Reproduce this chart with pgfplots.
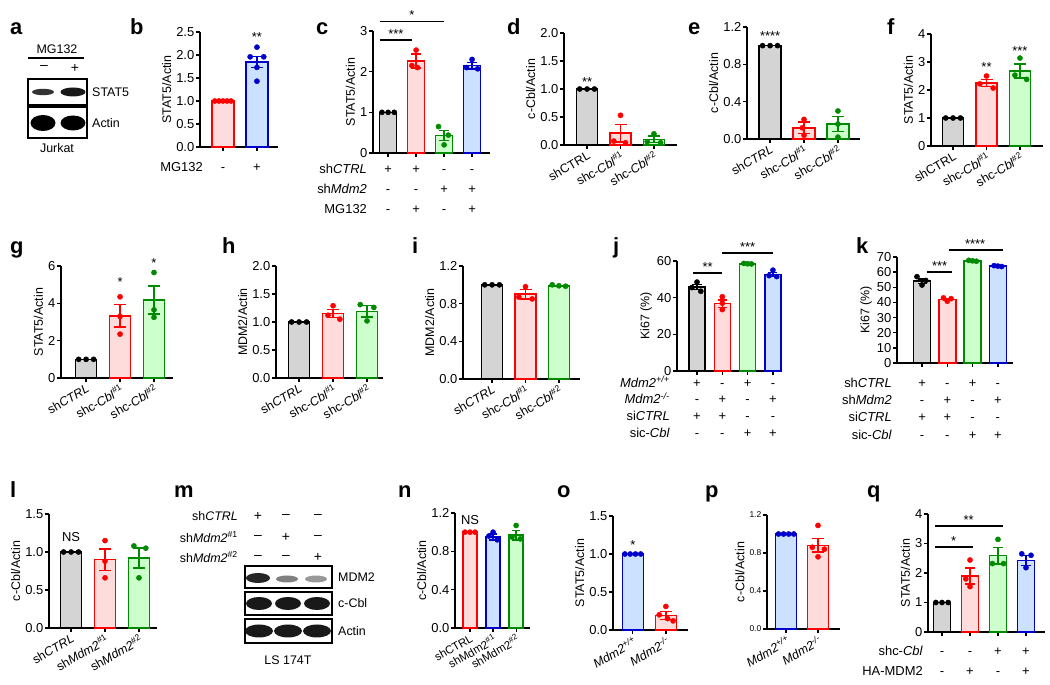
\documentclass[border=0pt]{standalone}
\usepackage{pgfplots}
\pgfplotsset{compat=1.18}
\usepackage{fontspec}
\setmainfont{Liberation Sans}
\definecolor{gf}{HTML}{D4D4D4}
\definecolor{rf}{HTML}{FFDCDC}
\definecolor{gnf}{HTML}{CCFFCC}
\definecolor{bf}{HTML}{CCE0FF}
\definecolor{rd}{HTML}{FF0000}
\definecolor{gn}{HTML}{008A00}
\definecolor{bl}{HTML}{0000CC}
\newcommand{\fs}[1]{\fontsize{#1}{1.2\dimexpr #1pt\relax}\selectfont}
\pgfplotsset{
  prism/.style={scale only axis, axis lines=left, axis line style={-, line width=1.5bp},
    tick align=outside, major tick length=4bp, tick style={black, line width=1.3bp},
    ymin=0, clip=false, xticklabels={},
    yticklabel style={font=\fs{13}, inner sep=1.5bp},
    ylabel style={font=\fs{12.5}},
    xticklabel style={font=\fs{12.5}, rotate=30, anchor=north east, inner sep=1bp},
    /pgf/number format/assume math mode=true},
  B/.style n args={3}{ybar, bar shift=0pt, draw=#1, fill=#2, line width=1.5bp, bar width=#3,
    /pgfplots/error bars/y dir=both, /pgfplots/error bars/y explicit,
    /pgfplots/error bars/error bar style={line width=1.4bp, draw=#1, solid},
    /pgfplots/error bars/error mark options={rotate=90, mark size=6bp, line width=1.4bp, draw=#1}},
  D/.style={only marks, mark=*, mark size=2.6bp, color=#1, mark options={solid, fill=#1, draw=#1}},
  S/.style={black, line width=1.4bp, mark=none},
}
\tikzset{
  st/.style={font=\fs{13}, inner sep=0pt, anchor=base, yshift=-7.2bp},
  sl/.style={font=\fs{13}, inner sep=0pt, anchor=base, yshift=1.5bp},
  tbl/.style={font=\fontsize{13}{#1}\selectfont, align=center, inner sep=0pt, anchor=north},
  tbr/.style={font=\fontsize{13}{#1}\selectfont, align=right, inner sep=0pt, anchor=north east},
  lt/.style={font=\bfseries\fontsize{22}{26}\selectfont, anchor=base west, inner sep=0pt},
  bt/.style={font=\fs{12.5}, inner sep=0pt},
}
\begin{document}
\begin{tikzpicture}
\useasboundingbox (0,0) rectangle (1050bp,685bp);
% panel letters
\node[lt] at (10bp,650bp) {a};
\node[lt] at (130bp,650bp) {b};
\node[lt] at (316bp,650bp) {c};
\node[lt] at (507bp,650bp) {d};
\node[lt] at (688bp,650bp) {e};
\node[lt] at (887bp,650bp) {f};
\node[lt] at (10bp,431bp) {g};
\node[lt] at (222bp,431bp) {h};
\node[lt] at (412bp,431bp) {i};
\node[lt] at (613bp,431bp) {j};
\node[lt] at (856bp,431bp) {k};
\node[lt] at (10bp,187bp) {l};
\node[lt] at (174bp,187bp) {m};
\node[lt] at (398bp,187bp) {n};
\node[lt] at (557bp,187bp) {o};
\node[lt] at (705bp,187bp) {p};
\node[lt] at (867bp,187bp) {q};

% ---- a: blot
\node[bt] at (57bp,636bp) {MG132};
\draw[line width=1.2bp] (28bp,627bp) -- (84bp,627bp);
\node[bt, font=\fs{14}] at (44bp,617bp) {\textendash};
\node[bt, font=\fs{14}] at (75bp,617bp) {+};
\draw[line width=1.6bp] (28bp,580bp) rectangle (87bp,606bp);
\fill[black!80] (43bp,593bp) ellipse [x radius=11bp, y radius=3.2bp];
\fill[black!90] (73bp,593bp) ellipse [x radius=12.5bp, y radius=4.5bp];
\draw[line width=1.6bp] (28bp,547bp) rectangle (87bp,578bp);
\fill[black] (43bp,562bp) ellipse [x radius=12.5bp, y radius=8bp];
\fill[black] (73bp,562bp) ellipse [x radius=12.5bp, y radius=7.5bp];
\node[bt, anchor=west] at (92bp,593bp) {STAT5};
\node[bt, anchor=west] at (92bp,562bp) {Actin};
\node[bt] at (57bp,537bp) {Jurkat};

% ---- m: blot
\node[bt, anchor=east] at (238bp,169bp) {sh\textit{CTRL}};
\node[bt, anchor=east] at (238bp,148bp) {sh\textit{Mdm2}\textsuperscript{\#1}};
\node[bt, anchor=east] at (238bp,128bp) {sh\textit{Mdm2}\textsuperscript{\#2}};
\node[bt, font=\fs{14}] at (258bp,169bp) {+};
\node[bt, font=\fs{14}] at (286bp,169bp) {\textendash};
\node[bt, font=\fs{14}] at (318bp,169bp) {\textendash};
\node[bt, font=\fs{14}] at (258bp,148bp) {\textendash};
\node[bt, font=\fs{14}] at (286bp,148bp) {+};
\node[bt, font=\fs{14}] at (318bp,148bp) {\textendash};
\node[bt, font=\fs{14}] at (258bp,128bp) {\textendash};
\node[bt, font=\fs{14}] at (286bp,128bp) {\textendash};
\node[bt, font=\fs{14}] at (318bp,128bp) {+};
\draw[line width=1.6bp] (245bp,97bp) rectangle (332bp,119bp);
\fill[black!85] (258bp,107bp) ellipse [x radius=12bp, y radius=5bp];
\fill[black!50] (287bp,106bp) ellipse [x radius=11bp, y radius=3.5bp];
\fill[black!40] (316bp,106bp) ellipse [x radius=11bp, y radius=3.5bp];
\draw[line width=1.6bp] (245bp,70bp) rectangle (332bp,93bp);
\fill[black!90] (259bp,81.5bp) ellipse [x radius=13bp, y radius=6.5bp];
\fill[black!90] (288bp,81.5bp) ellipse [x radius=13bp, y radius=6.5bp];
\fill[black!90] (317bp,81.5bp) ellipse [x radius=13bp, y radius=6.5bp];
\draw[line width=1.6bp] (245bp,42bp) rectangle (332bp,66bp);
\fill[black!90] (259bp,54bp) ellipse [x radius=14bp, y radius=6.5bp];
\fill[black!90] (288bp,54bp) ellipse [x radius=14bp, y radius=6.5bp];
\fill[black!90] (317bp,54bp) ellipse [x radius=14bp, y radius=6.5bp];
\node[bt, anchor=west] at (338bp,108bp) {MDM2};
\node[bt, anchor=west] at (338bp,82bp) {c-Cbl};
\node[bt, anchor=west] at (338bp,54bp) {Actin};
\node[bt] at (288bp,25bp) {LS 174T};

% ---- b
\begin{axis}[prism, at={(200bp,538bp)}, anchor=south west, width=78bp, height=115bp,
  xmin=-0.676, xmax=1.62, ymax=2.5, xtick={0,1},
  ytick={0,0.5,1,1.5,2,2.5}, yticklabels={0.0,0.5,1.0,1.5,2.0,2.5}, ylabel={STAT5/Actin}]
\addplot[B={rd}{rf}{22bp}] coordinates {(0,1) +- (0,0)};
\addplot[D=rd] coordinates {(-0.24,1)(-0.12,1)(0,1)(0.12,1)(0.24,1)};
\addplot[B={bl}{bf}{22bp}] coordinates {(1,1.85) +- (0,0.12)};
\addplot[D=bl] coordinates {(1,2.17)(0.8,1.96)(1.2,1.96)(1,1.73)(1,1.43)};
\node[st] at (axis cs:1,2.45) {**};
\node[tbl=20] at (axis cs:0,0) [yshift=-10.6bp] {\strut-};
\node[tbl=20] at (axis cs:1,0) [yshift=-10.6bp] {\strut+};
\node[tbr=20] at (axis cs:-0.59,0) [yshift=-10.6bp] {\strut MG132};
\end{axis}

% ---- c
\begin{axis}[prism, at={(373bp,532bp)}, anchor=south west, width=117bp, height=122bp,
  xmin=-0.54, xmax=3.64, ymax=3, xtick={0,1,2,3},
  ytick={0,1,2,3}, yticklabels={0,1,2,3}, ylabel={STAT5/Actin}]
\addplot[B={black}{gf}{17bp}] coordinates {(0,1) +- (0,0)};
\addplot[D=black] coordinates {(-0.22,1)(0,1)(0.22,1)};
\addplot[B={rd}{rf}{17bp}, /pgfplots/error bars/error mark options={rotate=90, mark size=5bp, line width=1.4bp, draw=rd}] coordinates {(1,2.26) +- (0,0.17)};
\addplot[D=rd] coordinates {(1,2.53)(0.85,2.15)(1.05,2.1)};
\addplot[B={gn}{gnf}{17bp}, /pgfplots/error bars/error mark options={rotate=90, mark size=5bp, line width=1.4bp, draw=gn}] coordinates {(2,0.43) +- (0,0.13)};
\addplot[D=gn] coordinates {(1.8,0.65)(2.15,0.44)(2,0.2)};
\addplot[B={bl}{bf}{17bp}, /pgfplots/error bars/error mark options={rotate=90, mark size=5bp, line width=1.4bp, draw=bl}] coordinates {(3,2.15) +- (0,0.08)};
\addplot[D=bl] coordinates {(3,2.3)(2.8,2.1)(3.2,2.07)};
\addplot[S] coordinates {(-0.3,2.78)(0.85,2.78)};
\node[sl] at (axis cs:0.28,2.78) {***};
\addplot[S] coordinates {(-0.3,3.24)(2,3.24)};
\node[sl] at (axis cs:0.85,3.24) {*};
\node[tbl=20.5] at (axis cs:0,0) [yshift=-5.6bp] {\strut+\\-\\-};
\node[tbl=20.5] at (axis cs:1,0) [yshift=-5.6bp] {\strut+\\-\\+};
\node[tbl=20.5] at (axis cs:2,0) [yshift=-5.6bp] {\strut-\\+\\-};
\node[tbl=20.5] at (axis cs:3,0) [yshift=-5.6bp] {\strut-\\+\\+};
\node[tbr=20.5] at (axis cs:-0.75,0) [yshift=-5.6bp] {\strut sh\textit{CTRL}\\sh\textit{Mdm2}\\MG132};
\end{axis}

% ---- d
\begin{axis}[prism, at={(564bp,540bp)}, anchor=south west, width=113bp, height=112bp,
  xmin=-0.69, xmax=2.69, ymax=2, xtick={0,1,2},
  xticklabels={shCTRL, shc-\textit{Cbl}\textsuperscript{\#1}, shc-\textit{Cbl}\textsuperscript{\#2}},
  ytick={0,0.5,1,1.5,2}, yticklabels={0.0,0.5,1.0,1.5,2.0}, ylabel={c-Cbl/Actin}]
\addplot[B={black}{gf}{21bp}] coordinates {(0,1) +- (0,0)};
\addplot[D=black] coordinates {(-0.22,1)(0,1)(0.22,1)};
\addplot[B={rd}{rf}{21bp}] coordinates {(1,0.21) +- (0,0.16)};
\addplot[D=rd] coordinates {(1,0.53)(0.8,0.07)(1.15,0.04)};
\addplot[B={gn}{gnf}{21bp}] coordinates {(2,0.1) +- (0,0.06)};
\addplot[D=gn] coordinates {(2,0.2)(1.8,0.06)(2.2,0.04)};
\node[st] at (axis cs:0,1.17) {**};
\end{axis}

% ---- e
\begin{axis}[prism, at={(747bp,546bp)}, anchor=south west, width=113bp, height=112bp,
  xmin=-0.68, xmax=2.65, ymax=1.2, xtick={0,1,2},
  xticklabels={sh\textit{CTRL}, shc-\textit{Cbl}\textsuperscript{\#1}, shc-\textit{Cbl}\textsuperscript{\#2}},
  ytick={0,0.4,0.8,1.2}, yticklabels={0.0,0.4,0.8,1.2}, ylabel={c-Cbl/Actin}]
\addplot[B={black}{gf}{22bp}] coordinates {(0,1) +- (0,0)};
\addplot[D=black] coordinates {(-0.22,1)(0,1)(0.22,1)};
\addplot[B={rd}{rf}{22bp}] coordinates {(1,0.12) +- (0,0.06)};
\addplot[D=rd] coordinates {(1,0.21)(0.95,0.12)(1,0.04)};
\addplot[B={gn}{gnf}{22bp}] coordinates {(2,0.16) +- (0,0.08)};
\addplot[D=gn] coordinates {(2,0.3)(2,0.16)(2,0.02)};
\node[st] at (axis cs:0,1.13) {****};
\end{axis}

% ---- f
\begin{axis}[prism, at={(931bp,539bp)}, anchor=south west, width=112bp, height=112bp,
  xmin=-0.66, xmax=2.69, ymax=4, xtick={0,1,2},
  xticklabels={shCTRL, shc-\textit{Cbl}\textsuperscript{\#1}, shc-\textit{Cbl}\textsuperscript{\#2}},
  ytick={0,1,2,3,4}, yticklabels={0,1,2,3,4}, ylabel={STAT5/Actin}]
\addplot[B={black}{gf}{21bp}] coordinates {(0,1) +- (0,0)};
\addplot[D=black] coordinates {(-0.22,1)(0,1)(0.22,1)};
\addplot[B={rd}{rf}{21bp}] coordinates {(1,2.25) +- (0,0.13)};
\addplot[D=rd] coordinates {(1,2.5)(0.8,2.22)(1.2,2.07)};
\addplot[B={gn}{gnf}{21bp}] coordinates {(2,2.68) +- (0,0.25)};
\addplot[D=gn] coordinates {(2,3.14)(1.85,2.53)(2.2,2.38)};
\node[st] at (axis cs:1,2.9) {**};
\node[st] at (axis cs:2,3.5) {***};
\end{axis}

% ---- g
\begin{axis}[prism, at={(61bp,307bp)}, anchor=south west, width=112bp, height=112bp,
  xmin=-0.74, xmax=2.56, ymax=6, xtick={0,1,2},
  xticklabels={sh\textit{CTRL}, shc-\textit{Cbl}\textsuperscript{\#1}, shc-\textit{Cbl}\textsuperscript{\#2}},
  ytick={0,2,4,6}, yticklabels={0,2,4,6}, ylabel={STAT5/Actin}]
\addplot[B={black}{gf}{21bp}] coordinates {(0,1) +- (0,0)};
\addplot[D=black] coordinates {(-0.22,1)(0,1)(0.22,1)};
\addplot[B={rd}{rf}{21bp}] coordinates {(1,3.33) +- (0,0.6)};
\addplot[D=rd] coordinates {(1,4.35)(1,3.3)(1,2.35)};
\addplot[B={gn}{gnf}{21bp}] coordinates {(2,4.18) +- (0,0.75)};
\addplot[D=gn] coordinates {(2,5.65)(2,3.65)(2,3.25)};
\node[st] at (axis cs:1,5.3) {*};
\node[st] at (axis cs:2,6.3) {*};
\end{axis}

% ---- h
\begin{axis}[prism, at={(276bp,307bp)}, anchor=south west, width=107bp, height=112bp,
  xmin=-0.68, xmax=2.47, ymax=2, xtick={0,1,2},
  xticklabels={sh\textit{CTRL}, shc-\textit{Cbl}\textsuperscript{\#1}, shc-\textit{Cbl}\textsuperscript{\#2}},
  ytick={0,0.5,1,1.5,2}, yticklabels={0.0,0.5,1.0,1.5,2.0}, ylabel={MDM2/Actin}]
\addplot[B={black}{gf}{21bp}] coordinates {(0,1) +- (0,0)};
\addplot[D=black] coordinates {(-0.22,1)(0,1)(0.22,1)};
\addplot[B={rd}{rf}{21bp}] coordinates {(1,1.15) +- (0,0.07)};
\addplot[D=rd] coordinates {(1,1.29)(0.85,1.12)(1.2,1.05)};
\addplot[B={gn}{gnf}{21bp}] coordinates {(2,1.19) +- (0,0.1)};
\addplot[D=gn] coordinates {(1.8,1.31)(2.2,1.26)(2,1.02)};
\end{axis}

% ---- i
\begin{axis}[prism, at={(463bp,306bp)}, anchor=south west, width=117bp, height=113bp,
  xmin=-0.87, xmax=2.63, ymax=1.2, xtick={0,1,2},
  xticklabels={sh\textit{CTRL}, shc-\textit{Cbl}\textsuperscript{\#1}, shc-\textit{Cbl}\textsuperscript{\#2}},
  ytick={0,0.4,0.8,1.2}, yticklabels={0.0,0.4,0.8,1.2}, ylabel={MDM2/Actin}]
\addplot[B={black}{gf}{21bp}] coordinates {(0,1) +- (0,0)};
\addplot[D=black] coordinates {(-0.22,1)(0,1)(0.22,1)};
\addplot[B={rd}{rf}{21bp}] coordinates {(1,0.9) +- (0,0.05)};
\addplot[D=rd] coordinates {(1,0.98)(0.8,0.87)(1.2,0.85)};
\addplot[B={gn}{gnf}{21bp}] coordinates {(2,0.99) +- (0,0.005)};
\addplot[D=gn] coordinates {(1.8,1.0)(2,0.99)(2.2,0.985)};
\end{axis}

% ---- j
\begin{axis}[prism, at={(677bp,314bp)}, anchor=south west, width=103bp, height=110bp,
  xmin=-0.79, xmax=3.28, ymax=60, xtick={0,1,2,3},
  ytick={0,20,40,60}, yticklabels={0,20,40,60}, ylabel={Ki67 (\%)}]
\addplot[B={black}{gf}{16bp}, /pgfplots/error bars/error mark options={rotate=90, mark size=4.5bp, line width=1.4bp, draw=black}] coordinates {(0,45.8) +- (0,1.3)};
\addplot[D=black] coordinates {(0,48.5)(-0.2,45.5)(0.15,43.5)};
\addplot[B={rd}{rf}{16bp}, /pgfplots/error bars/error mark options={rotate=90, mark size=4.5bp, line width=1.4bp, draw=rd}] coordinates {(1,36.8) +- (0,2)};
\addplot[D=rd] coordinates {(1,40.5)(1,37)(1,33.5)};
\addplot[B={gn}{gnf}{16bp}, /pgfplots/error bars/error mark options={rotate=90, mark size=4.5bp, line width=1.4bp, draw=gn}] coordinates {(2,58.5) +- (0,0.2)};
\addplot[D=gn] coordinates {(1.85,58.7)(2,58.5)(2.15,58.4)};
\addplot[B={bl}{bf}{16bp}, /pgfplots/error bars/error mark options={rotate=90, mark size=4.5bp, line width=1.4bp, draw=bl}] coordinates {(3,52.6) +- (0,1)};
\addplot[D=bl] coordinates {(3,55)(2.85,52)(3.15,51.5)};
\addplot[S] coordinates {(-0.16,53.5)(1,53.5)};
\node[sl] at (axis cs:0.42,53.5) {**};
\addplot[S] coordinates {(1,64.4)(3,64.4)};
\node[sl] at (axis cs:2,64.4) {***};
\node[tbl=16.7] at (axis cs:0,0) [yshift=-4.3bp] {\strut+\\-\\+\\-};
\node[tbl=16.7] at (axis cs:1,0) [yshift=-4.3bp] {\strut-\\+\\+\\-};
\node[tbl=16.7] at (axis cs:2,0) [yshift=-4.3bp] {\strut+\\-\\-\\+};
\node[tbl=16.7] at (axis cs:3,0) [yshift=-4.3bp] {\strut-\\+\\-\\+};
\node[tbr=16.7] at (axis cs:-1.07,0) [yshift=-4.3bp] {\strut\textit{Mdm2}\textsuperscript{\textit{+/+}}\\\textit{Mdm2}\textsuperscript{\textit{-/-}}\\si\textit{CTRL}\\sic-\textit{Cbl}};
\end{axis}

% ---- k
\begin{axis}[prism, at={(897bp,322bp)}, anchor=south west, width=116bp, height=106bp,
  xmin=-0.99, xmax=3.6, ymax=70, xtick={0,1,2,3},
  ytick={0,10,20,30,40,50,60,70}, yticklabels={0,10,20,30,40,50,60,70}, ylabel={Ki67 (\%)}]
\addplot[B={black}{gf}{17bp}, /pgfplots/error bars/error mark options={rotate=90, mark size=4.5bp, line width=1.4bp, draw=black}] coordinates {(0,54) +- (0,1.5)};
\addplot[D=black] coordinates {(-0.2,57)(0.15,54.5)(0,51.5)};
\addplot[B={rd}{rf}{17bp}, /pgfplots/error bars/error mark options={rotate=90, mark size=4.5bp, line width=1.4bp, draw=rd}] coordinates {(1,42) +- (0,0.7)};
\addplot[D=rd] coordinates {(0.85,43)(1.15,42.5)(1,40.8)};
\addplot[B={gn}{gnf}{17bp}, /pgfplots/error bars/error mark options={rotate=90, mark size=4.5bp, line width=1.4bp, draw=gn}] coordinates {(2,67.5) +- (0,0.3)};
\addplot[D=gn] coordinates {(1.85,67.8)(2,67.5)(2.15,67.2)};
\addplot[B={bl}{bf}{17bp}, /pgfplots/error bars/error mark options={rotate=90, mark size=4.5bp, line width=1.4bp, draw=bl}] coordinates {(3,64) +- (0,0.3)};
\addplot[D=bl] coordinates {(2.85,64.3)(3,64)(3.15,63.7)};
\addplot[S] coordinates {(0.2,60)(1.2,60)};
\node[sl] at (axis cs:0.7,60) {***};
\addplot[S] coordinates {(1.05,74.6)(3.2,74.6)};
\node[sl] at (axis cs:2.1,74.6) {****};
\node[tbl=17.5] at (axis cs:0,0) [yshift=-11.7bp] {\strut+\\-\\+\\-};
\node[tbl=17.5] at (axis cs:1,0) [yshift=-11.7bp] {\strut-\\+\\+\\-};
\node[tbl=17.5] at (axis cs:2,0) [yshift=-11.7bp] {\strut+\\-\\-\\+};
\node[tbl=17.5] at (axis cs:3,0) [yshift=-11.7bp] {\strut-\\+\\-\\+};
\node[tbr=17.5] at (axis cs:-1.19,0) [yshift=-11.7bp] {\strut sh\textit{CTRL}\\sh\textit{Mdm2}\\si\textit{CTRL}\\sic-\textit{Cbl}};
\end{axis}

% ---- l
\begin{axis}[prism, at={(49bp,57bp)}, anchor=south west, width=108bp, height=114bp,
  xmin=-0.65, xmax=2.53, ymax=1.5, xtick={0,1,2},
  xticklabels={sh\textit{CTRL}, sh\textit{Mdm2}\textsuperscript{\#1}, sh\textit{Mdm2}\textsuperscript{\#2}},
  ytick={0,0.5,1,1.5}, yticklabels={0.0,0.5,1.0,1.5}, ylabel={c-Cbl/Actin}]
\addplot[B={black}{gf}{21bp}] coordinates {(0,1) +- (0,0)};
\addplot[D=black] coordinates {(-0.22,1)(0,1)(0.22,1)};
\addplot[B={rd}{rf}{21bp}] coordinates {(1,0.9) +- (0,0.14)};
\addplot[D=rd] coordinates {(1,1.15)(1,0.88)(1,0.66)};
\addplot[B={gn}{gnf}{21bp}] coordinates {(2,0.92) +- (0,0.13)};
\addplot[D=gn] coordinates {(1.85,1.08)(2.2,1.05)(2,0.66)};
\node[font=\fs{13}] at (axis cs:0,1.2) {NS};
\end{axis}

% ---- n
\begin{axis}[prism, at={(455bp,57bp)}, anchor=south west, width=75bp, height=115bp,
  xmin=-0.65, xmax=2.6, ymax=1.2, xtick={0,1,2},
  xticklabel style={font=\fs{11.5}},
  xticklabels={shCTRL, shMdm2\textsuperscript{\#1}, shMdm2\textsuperscript{\#2}},
  ytick={0,0.4,0.8,1.2}, yticklabels={0.0,0.4,0.8,1.2}, ylabel={c-Cbl/Actin}]
\addplot[B={rd}{rf}{14bp}, /pgfplots/error bars/error mark options={rotate=90, mark size=4bp, line width=1.4bp, draw=rd}] coordinates {(0,1) +- (0,0)};
\addplot[D=rd] coordinates {(-0.22,1)(0,1)(0.22,1)};
\addplot[B={bl}{bf}{14bp}, /pgfplots/error bars/error mark options={rotate=90, mark size=4bp, line width=1.4bp, draw=bl}] coordinates {(1,0.95) +- (0,0.03)};
\addplot[D=bl] coordinates {(1,1.0)(0.82,0.96)(1.18,0.92)};
\addplot[B={gn}{gnf}{14bp}, /pgfplots/error bars/error mark options={rotate=90, mark size=4bp, line width=1.4bp, draw=gn}] coordinates {(2,0.97) +- (0,0.05)};
\addplot[D=gn] coordinates {(2,1.07)(1.82,0.95)(2.18,0.93)};
\node[font=\fs{13}] at (axis cs:0,1.13) {NS};
\end{axis}

% ---- o
\begin{axis}[prism, at={(613bp,55bp)}, anchor=south west, width=75bp, height=114bp,
  xmin=-0.6, xmax=1.67, ymax=1.5, xtick={0,1},
  xticklabels={\textit{Mdm2}\textsuperscript{\textit{+/+}}, \textit{Mdm2}\textsuperscript{\textit{-/-}}},
  ytick={0,0.5,1,1.5}, yticklabels={0.0,0.5,1.0,1.5}, ylabel={STAT5/Actin}]
\addplot[B={bl}{bf}{21bp}] coordinates {(0,1) +- (0,0)};
\addplot[D=bl] coordinates {(-0.24,1)(-0.08,1)(0.08,1)(0.24,1)};
\addplot[B={rd}{rf}{21bp}] coordinates {(1,0.19) +- (0,0.05)};
\addplot[D=rd] coordinates {(1,0.31)(0.8,0.2)(1.05,0.15)(1.22,0.12)};
\node[st] at (axis cs:0,1.16) {*};
\end{axis}

% ---- p
\begin{axis}[prism, at={(767bp,56bp)}, anchor=south west, width=73bp, height=114bp,
  xmin=-0.6, xmax=1.69, ymax=1.2, xtick={0,1},
  xticklabels={\textit{Mdm2}\textsuperscript{\textit{+/+}}, \textit{Mdm2}\textsuperscript{\textit{-/-}}},
  yticklabel style={font=\fs{8.5}},
  ytick={0,0.4,0.8,1.2}, yticklabels={0.0,0.4,0.8,1.2}, ylabel={c-Cbl/Actin}]
\addplot[B={bl}{bf}{21bp}] coordinates {(0,1) +- (0,0)};
\addplot[D=bl] coordinates {(-0.24,1)(-0.08,1)(0.08,1)(0.24,1)};
\addplot[B={rd}{rf}{21bp}] coordinates {(1,0.88) +- (0,0.07)};
\addplot[D=rd] coordinates {(1,1.09)(0.82,0.86)(1.2,0.84)(1,0.76)};
\end{axis}

% ---- q
\begin{axis}[prism, at={(928bp,53bp)}, anchor=south west, width=117bp, height=118bp,
  xmin=-0.5, xmax=3.68, ymax=4, xtick={0,1,2,3},
  ytick={0,1,2,3,4}, yticklabels={0,1,2,3,4}, ylabel={STAT5/Actin}]
\addplot[B={black}{gf}{17bp}, /pgfplots/error bars/error mark options={rotate=90, mark size=5bp, line width=1.4bp, draw=black}] coordinates {(0,1) +- (0,0)};
\addplot[D=black] coordinates {(-0.22,1)(0,1)(0.22,1)};
\addplot[B={rd}{rf}{17bp}, /pgfplots/error bars/error mark options={rotate=90, mark size=5bp, line width=1.4bp, draw=rd}] coordinates {(1,1.9) +- (0,0.27)};
\addplot[D=rd] coordinates {(1,2.44)(0.85,1.8)(1,1.54)};
\addplot[B={gn}{gnf}{17bp}, /pgfplots/error bars/error mark options={rotate=90, mark size=5bp, line width=1.4bp, draw=gn}] coordinates {(2,2.59) +- (0,0.28)};
\addplot[D=gn] coordinates {(2,3.14)(1.8,2.32)(2.2,2.32)};
\addplot[B={bl}{bf}{17bp}, /pgfplots/error bars/error mark options={rotate=90, mark size=5bp, line width=1.4bp, draw=bl}] coordinates {(3,2.42) +- (0,0.17)};
\addplot[D=bl] coordinates {(2.85,2.65)(3.18,2.6)(3,2.18)};
\addplot[S] coordinates {(-0.25,2.88)(1.1,2.88)};
\node[sl] at (axis cs:0.42,2.88) {*};
\addplot[S] coordinates {(-0.25,3.6)(2.18,3.6)};
\node[sl] at (axis cs:0.95,3.6) {**};
\node[tbl=20] at (axis cs:0,0) [yshift=-9bp] {\strut-\\-};
\node[tbl=20] at (axis cs:1,0) [yshift=-9bp] {\strut-\\+};
\node[tbl=20] at (axis cs:2,0) [yshift=-9bp] {\strut+\\-};
\node[tbl=20] at (axis cs:3,0) [yshift=-9bp] {\strut+\\+};
\node[tbr=20] at (axis cs:-0.68,0) [yshift=-9bp] {\strut shc-\textit{Cbl}\\HA-MDM2};
\end{axis}
\end{tikzpicture}
\end{document}
